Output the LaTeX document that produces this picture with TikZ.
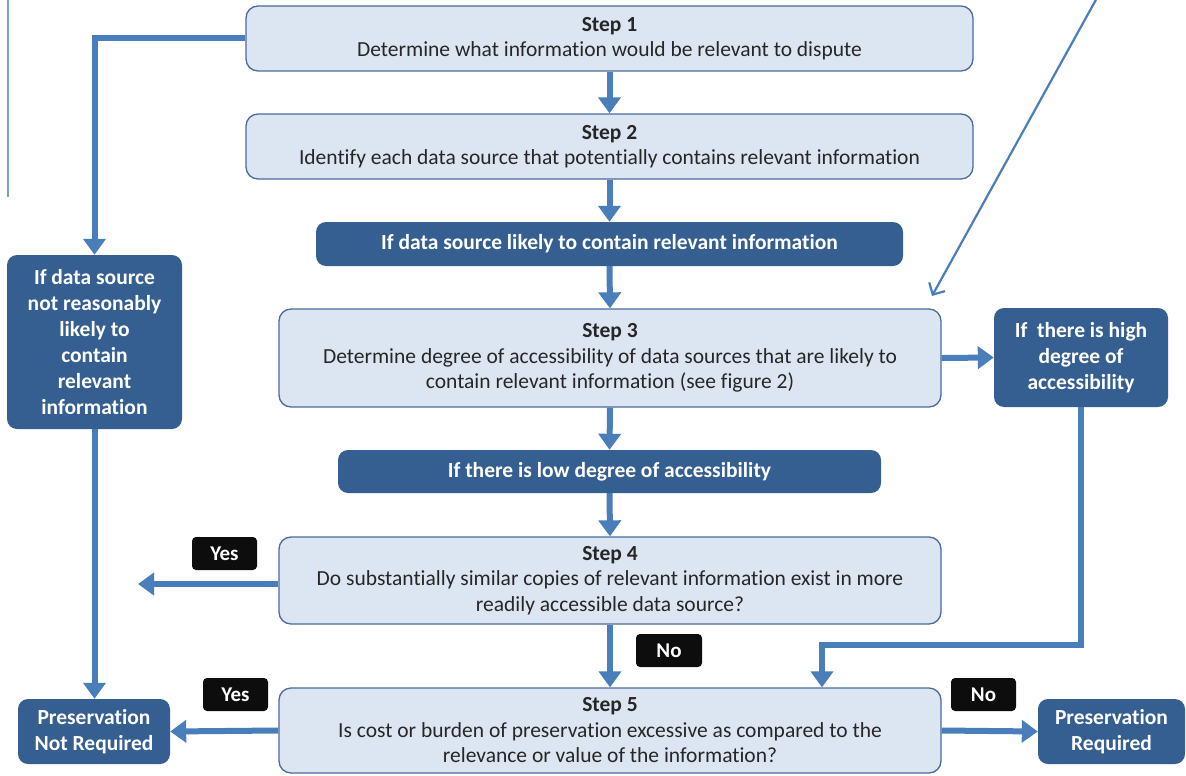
\documentclass[tikz,border=0pt]{standalone}
\usepackage{fontspec}
\setmainfont{Carlito}[Ligatures=NoCommon]
\usetikzlibrary{arrows.meta}
\definecolor{stepfill}{HTML}{DCE6F2}
\definecolor{stepline}{HTML}{4A6B9C}
\definecolor{darkfill}{HTML}{365F91}
\definecolor{flowblue}{HTML}{4A7EBB}
\definecolor{labelblack}{HTML}{0D0D0D}
\definecolor{bodytext}{HTML}{262626}
\definecolor{edgeblue}{HTML}{7D9FCF}
\begin{document}
\begin{tikzpicture}[x=1pt,y=-1pt,
  stepbox/.style={draw=stepline, line width=1.3pt, fill=stepfill, rounded corners=12pt,
    align=center, text=bodytext, inner sep=0pt, font=\fontsize{21.5}{25.5}\selectfont},
  darkbox/.style={fill=darkfill, rounded corners=10pt, align=center, text=white,
    inner sep=0pt, font=\bfseries\fontsize{21.5}{26}\selectfont},
  tagbox/.style={fill=labelblack, rounded corners=4pt, text=white, inner sep=0pt,
    minimum width=65pt, minimum height=33pt, font=\bfseries\fontsize{21}{24}\selectfont},
  flow/.style={draw=flowblue, line width=6pt,
    -{Triangle[length=16pt,width=22pt]}},
  pointer/.style={draw=flowblue, line width=2.2pt,
    -{Straight Barb[length=9pt,width=18pt]}}
]
\useasboundingbox (0,0) rectangle (1186,776);

% thin rule along the left margin
\draw[edgeblue, line width=2pt] (8,0) -- (8,197);

% main column of steps
\node[stepbox, minimum width=727pt, minimum height=65pt] (s1) at (609.5,38.5)
  {\textbf{Step 1}\\Determine what information would be relevant to dispute};
\node[stepbox, minimum width=727pt, minimum height=65pt] (s2) at (609.5,146.5)
  {\textbf{Step 2}\\Identify each data source that potentially contains relevant information};
\node[darkbox, minimum width=587pt, minimum height=44pt] (d1) at (609.5,244)
  {If data source likely to contain relevant information};
\node[stepbox, minimum width=662pt, minimum height=98pt] (s3) at (610,358)
  {\textbf{Step 3}\\Determine degree of accessibility of data sources that are likely to\\contain relevant information (see figure 2)};
\node[darkbox, minimum width=543pt, minimum height=43pt] (d2) at (609.5,471.5)
  {If there is low degree of accessibility};
\node[stepbox, minimum width=662pt, minimum height=87pt] (s4) at (610,580.5)
  {\textbf{Step 4}\\Do substantially similar copies of relevant information exist in more\\readily accessible data source?};
\node[stepbox, minimum width=662pt, minimum height=85pt] (s5) at (610,730.5)
  {\textbf{Step 5}\\Is cost or burden of preservation excessive as compared to the\\relevance or value of the information?};

% side branches and outcomes
\node[darkbox, minimum width=175pt, minimum height=174pt] (lb) at (94.5,342)
  {If data source\\not reasonably\\likely to\\contain\\relevant\\information};
\node[darkbox, minimum width=174pt, minimum height=99pt] (hb) at (1081,357.5)
  {If~ there is high\\degree of\\accessibility};
\node[darkbox, minimum width=152pt, minimum height=65pt] (pnr) at (94,731.5)
  {Preservation\\Not Required};
\node[darkbox, minimum width=147pt, minimum height=65pt] (pr) at (1111.5,731.5)
  {Preservation\\Required};

% answer tags
\node[tagbox] (yes1) at (224.5,553.5) {Yes};
\node[tagbox] (yes2) at (235.5,694.5) {Yes};
\node[tagbox, minimum width=66pt] (no1) at (669,650.5) {No};
\node[tagbox] (no2) at (983.5,694.5) {No};

% connectors
\coordinate (bend) at (822,645);
\coordinate (yesend) at (138,584);
\coordinate (ptrstart) at (1098,-4);
\coordinate (ptrend) at (932,296);

\draw[flow] (s1.west) -| (lb.north);
\draw[flow] (s1.south) -- (s2.north);
\draw[flow] (s2.south) -- (d1.north);
\draw[flow] (d1.south) -- (s3.north);
\draw[flow] (s3.south) -- (d2.north);
\draw[flow] (d2.south) -- (s4.north);
\draw[flow] (s4.south) -- (s5.north);
\draw[flow] (s3.east) -- (hb.west);
\draw[flow] (hb.south) |- (bend) -- (bend |- s5.north);
\draw[flow] (lb.south) -- (lb.south |- pnr.north);
\draw[flow] (s4.west |- yesend) -- (yesend);
\draw[flow] (s5.west) -- (pnr.east);
\draw[flow] (s5.east) -- (pr.west);
\draw[pointer] (ptrstart) -- (ptrend);
\end{tikzpicture}
\end{document}
